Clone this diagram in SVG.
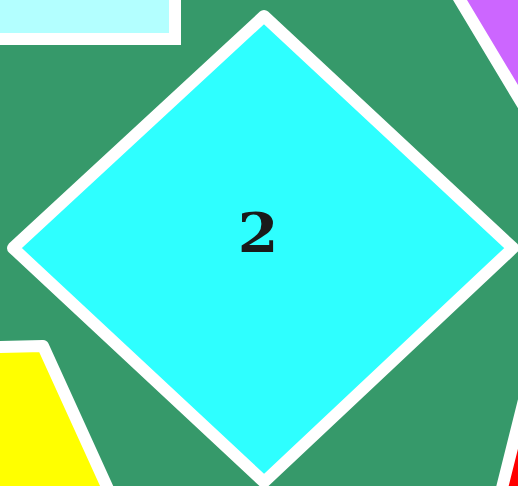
<svg xmlns="http://www.w3.org/2000/svg" width="518" height="486" viewBox="0 0 518 486">
<style>
.shape{stroke:#ffffff;stroke-width:12;stroke-linejoin:round}
.sharp{stroke-linejoin:miter}
.lbl{font-family:"DejaVu Serif",serif;font-weight:bold;font-size:54px;fill:#1a1a1a;text-anchor:middle}
</style>
<rect width="518" height="486" fill="#36996a"/>
<g id="node-topleft"><rect class="shape sharp" x="-40" y="-40" width="215" height="79" fill="#b3ffff"/></g>
<g id="node-purple"><polygon class="shape" points="448,-20 535,125 600,-20" fill="#cc66ff"/></g>
<g id="node-yellow"><polygon class="shape" points="-40,348 43,346 113,500 -40,500" fill="#ffff00"/></g>
<g id="node-red"><polygon class="shape" points="529,380 499,500 560,500" fill="#ff0000"/></g>
<g id="node-2">
<polygon class="shape" points="264,16 513,248 264,482 13,248" fill="#2effff"/>
<text class="lbl" x="258" y="252" transform="translate(258 0) scale(1.08 1) translate(-258 0)">2</text>
</g>
<g id="connectors"/>
</svg>
